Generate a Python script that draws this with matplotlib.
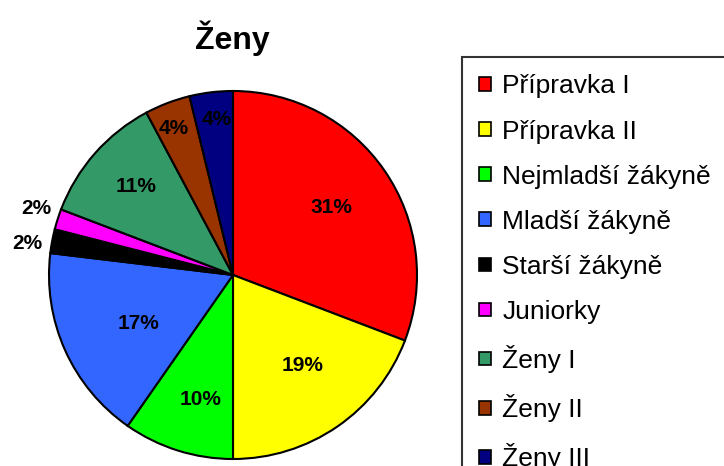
import matplotlib
matplotlib.use("Agg")
import matplotlib.pyplot as plt
import numpy as np

plt.rcParams['font.family'] = ['Liberation Sans', 'DejaVu Sans']

categories = ["Přípravka I", "Přípravka II", "Nejmladší žákyně", "Mladší žákyně",
              "Starší žákyně", "Juniorky", "Ženy I", "Ženy II", "Ženy III"]
values = [30.8, 19.2, 9.7, 17.2, 2.1, 1.8, 11.4, 4.0, 3.8]
colors = ["#FF0000", "#FFFF00", "#00FF00", "#3366FF", "#000000",
          "#FF00FF", "#339966", "#993300", "#000080"]
label_dist = [0.65, 0.62, 0.70, 0.58, 1.13, 1.13, 0.71, 0.86, 0.85]
label_shift = [0, 3, 3, 3, 2, -1, -1, 1, -1]  # degrees

W, H = 724, 466
fig = plt.figure(figsize=(W / 100, H / 100), dpi=100)
cx, cy, r = 233, 275, 184
ax = fig.add_axes([(cx - r) / W, (H - cy - r) / H, 2 * r / W, 2 * r / H])
wedges, _ = ax.pie(values, colors=colors, startangle=90, counterclock=False,
                   radius=1.0, wedgeprops=dict(edgecolor="black", linewidth=1.5))
ax.set_xlim(-1, 1)
ax.set_ylim(-1, 1)
ax.set_aspect("equal")
ax.axis("off")

total = sum(values)
for w, v, d, s in zip(wedges, values, label_dist, label_shift):
    mid = np.deg2rad((w.theta1 + w.theta2) / 2 + s)
    ax.text(d * np.cos(mid), d * np.sin(mid), f"{round(v / total * 100):.0f}%",
            ha="center", va="center", fontsize=15, fontweight="bold", color="black",
            clip_on=False)

fig.text(232 / W, 1 - 38 / H, "Ženy", ha="center", va="center",
         fontsize=23, fontweight="bold")

leg = fig.legend(wedges, categories, loc="upper left",
                 bbox_to_anchor=(462 / W, 1 - 57 / H), fontsize=19,
                 frameon=True, fancybox=False, edgecolor="black",
                 handlelength=0.42, handleheight=0.42, handletextpad=0.45,
                 labelspacing=0.80, borderpad=0.66, borderaxespad=0)
leg.get_frame().set_linewidth(1.5)
for h in leg.legend_handles:
    h.set_linewidth(1.2)
    h.set_edgecolor("black")

fig.savefig("out.png", dpi=100)
